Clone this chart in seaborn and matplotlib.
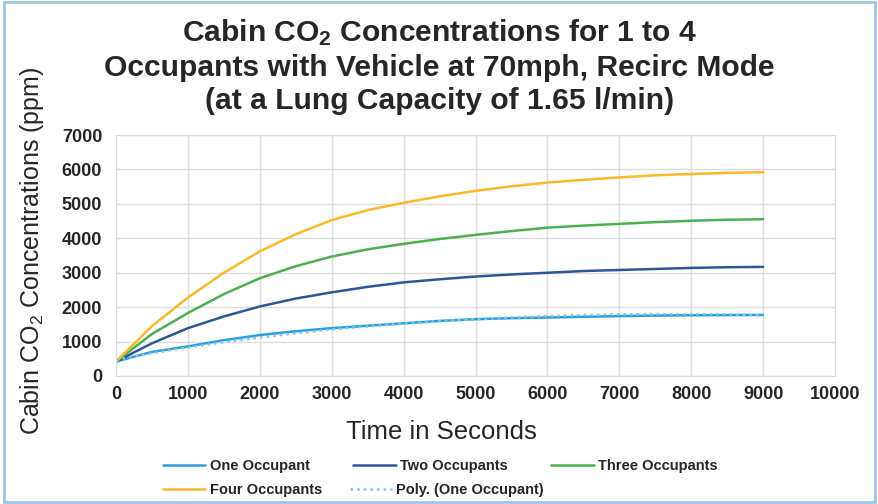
import pandas as pd
import numpy as np
import seaborn as sns
import matplotlib.pyplot as plt
from matplotlib.patches import Rectangle

# time axis (seconds) and CO2 readings (ppm)
time_s = [0, 500, 1000, 1500, 2000, 2500, 3000, 3500, 4000, 4500,
          5000, 5500, 6000, 6500, 7000, 7500, 8000, 8500, 9000]
one_occ = [420, 700, 860, 1040, 1190, 1300, 1390, 1460, 1530, 1600,
           1650, 1680, 1700, 1720, 1740, 1755, 1765, 1770, 1775]
two_occ = [420, 950, 1390, 1730, 2020, 2250, 2430, 2590, 2720, 2810,
           2890, 2950, 3000, 3050, 3080, 3110, 3140, 3160, 3170]
three_occ = [420, 1220, 1830, 2380, 2840, 3190, 3470, 3680, 3840, 3980,
             4100, 4210, 4310, 4370, 4420, 4470, 4510, 4540, 4555]
four_occ = [420, 1450, 2280, 3000, 3620, 4120, 4530, 4820, 5030, 5220,
            5380, 5510, 5620, 5700, 5770, 5830, 5870, 5900, 5920]
poly_one = [470, 660, 830, 980, 1120, 1240, 1350, 1440, 1520, 1590,
            1650, 1700, 1740, 1770, 1790, 1800, 1800, 1790, 1760]

series_names = ['One Occupant', 'Two Occupants', 'Three Occupants', 'Four Occupants']
colors = {'One Occupant': '#2b9fdc', 'Two Occupants': '#2f5597',
          'Three Occupants': '#4caf50', 'Four Occupants': '#fbb829'}

df = pd.DataFrame({'Time': time_s * 4,
                   'CO2': one_occ + two_occ + three_occ + four_occ,
                   'Series': np.repeat(series_names, len(time_s))})
df_poly = pd.DataFrame({'Time': time_s, 'CO2': poly_one})

sns.set_style('white')
plt.rcParams['font.family'] = ['Liberation Sans', 'DejaVu Sans']
plt.rcParams['mathtext.fontset'] = 'custom'
plt.rcParams['mathtext.rm'] = 'Liberation Sans'
plt.rcParams['mathtext.bf'] = 'Liberation Sans:bold'
plt.rcParams['mathtext.default'] = 'rm'

fig = plt.figure(figsize=(8.79, 5.04), dpi=100)
ax = fig.add_axes([0.132, 0.254, 0.818, 0.478])

sns.lineplot(data=df, x='Time', y='CO2', hue='Series', palette=colors,
             hue_order=series_names, linewidth=1.8, ax=ax)
sns.lineplot(data=df_poly, x='Time', y='CO2', color='#7cc8ee', linestyle=':',
             linewidth=1.8, label='Poly. (One Occupant)', ax=ax)

ax.set_xlim(0, 10000)
ax.set_ylim(0, 7000)
ax.set_xticks(range(0, 10001, 1000))
ax.set_yticks(range(0, 7001, 1000))
ax.grid(True, color='#dddddd', linewidth=1)
for s in ax.spines.values():
    s.set_color('#dddddd')
ax.tick_params(length=0, labelsize=13)
ax.tick_params(axis='y', pad=10)
ax.tick_params(axis='x', pad=7)
for lbl in ax.get_xticklabels() + ax.get_yticklabels():
    lbl.set_fontweight('bold')
ax.set_xlabel('Time in Seconds', fontsize=18.5)
ax.xaxis.set_label_coords(0.452, -0.183)
ax.set_ylabel(r'Cabin CO$_2$ Concentrations (ppm)', fontsize=18)
ax.yaxis.set_label_coords(-0.097, 0.519)

fig.text(0.5, 0.935, r'Cabin CO$_\mathbf{2}$ Concentrations for 1 to 4',
         ha='center', va='center', fontsize=21.6, fontweight='bold')
fig.text(0.5, 0.865, 'Occupants with Vehicle at 70mph, Recirc Mode',
         ha='center', va='center', fontsize=21.6, fontweight='bold')
fig.text(0.5, 0.80, '(at a Lung Capacity of 1.65 l/min)',
         ha='center', va='center', fontsize=21.6, fontweight='bold')

# legend laid out in two rows like the original
handles, labels = ax.get_legend_handles_labels()
leg_kw = dict(loc='center left', bbox_transform=fig.transFigure, frameon=False,
              prop={'weight': 'bold', 'size': 10.5}, handlelength=2.9,
              handletextpad=0.3, borderpad=0, borderaxespad=0)
row1 = ax.legend(handles[:3], labels[:3], ncol=3, columnspacing=3.0,
                 bbox_to_anchor=(163 / 879, 1 - 466 / 504), **leg_kw)
ax.add_artist(row1)
ax.legend(handles[3:], labels[3:], ncol=2, columnspacing=1.9,
          bbox_to_anchor=(163 / 879, 1 - 490 / 504), **leg_kw)

fig.patches.append(Rectangle((0.004, 0.004), 0.992, 0.992, transform=fig.transFigure,
                             fill=False, edgecolor='#9fc5e8', linewidth=2))

plt.savefig('out.png', dpi=100)
